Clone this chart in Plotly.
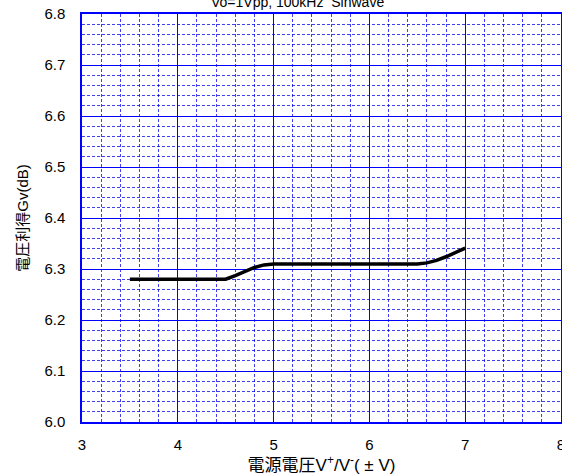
import plotly.graph_objects as go

# Supply voltage (±V) and measured voltage gain (dB)
supply_v = [3.5, 4.0, 4.5, 4.6, 4.7, 4.8, 4.9, 5.0, 5.5, 6.0, 6.5, 6.6, 6.7, 6.8, 6.9, 7.0]
gain_db = [6.28, 6.28, 6.28, 6.287, 6.295, 6.303, 6.308, 6.31, 6.31, 6.31, 6.31, 6.312, 6.317, 6.324, 6.333, 6.341]

x_ticks = [3, 4, 5, 6, 7, 8]
y_ticks = [6.0, 6.1, 6.2, 6.3, 6.4, 6.5, 6.6, 6.7, 6.8]
y_tick_text = ["6.0", "6.1", "6.2", "6.3", "6.4", "6.5", "6.6", "6.7", "6.8"]

title_text = "Vo=1Vpp, 100kHz  Sinwave"

FONT = "Liberation Sans, Arial, Noto Sans CJK JP"
GRID = "rgb(0,0,255)"
MINOR = "rgba(0,0,235,0.75)"

fig = go.Figure()
fig.add_trace(go.Scatter(
    x=supply_v, y=gain_db, mode="lines",
    line=dict(color="black", width=3.5),
    showlegend=False,
))

fig.update_layout(
    width=562, height=475,
    margin=dict(l=82, r=1, t=14, b=53),
    paper_bgcolor="white", plot_bgcolor="white",
    font=dict(family=FONT, size=15, color="black"),
)

fig.add_annotation(
    text=title_text, xref="paper", yref="paper",
    x=0.45, y=1.0, yshift=12, yanchor="middle", xanchor="center",
    showarrow=False, font=dict(family=FONT, size=14, color="black"),
)

fig.update_xaxes(
    range=[3, 8], tickvals=x_ticks, ticks="", ticklabelstandoff=8,
    ticklabeloverflow="allow", automargin=False,
    showgrid=True, gridcolor=GRID, gridwidth=1,
    showline=True, mirror=True, linecolor=GRID, linewidth=1.5,
    zeroline=False,
    minor=dict(dtick=0.2, showgrid=True, gridcolor=MINOR, gridwidth=1, griddash="3px,2px"),
    title=dict(text="電源電圧V<sup>+</sup>/V<sup>-</sup>( ± V)", standoff=7,
               font=dict(family=FONT, size=17, color="black")),
    tickfont=dict(family=FONT, size=15, color="black"),
)
fig.update_yaxes(
    range=[6.0, 6.8], tickvals=y_ticks, ticktext=y_tick_text, ticks="",
    ticklabelstandoff=12, automargin=False,
    showgrid=True, gridcolor=GRID, gridwidth=1,
    showline=True, mirror=True, linecolor=GRID, linewidth=1.5,
    zeroline=False,
    minor=dict(dtick=0.02, showgrid=True, gridcolor=MINOR, gridwidth=1, griddash="3px,2px"),
    title=dict(text="電圧利得Gv(dB)", standoff=12,
               font=dict(family=FONT, size=15, color="black")),
    tickfont=dict(family=FONT, size=15, color="black"),
)

fig.write_html("out.html")
